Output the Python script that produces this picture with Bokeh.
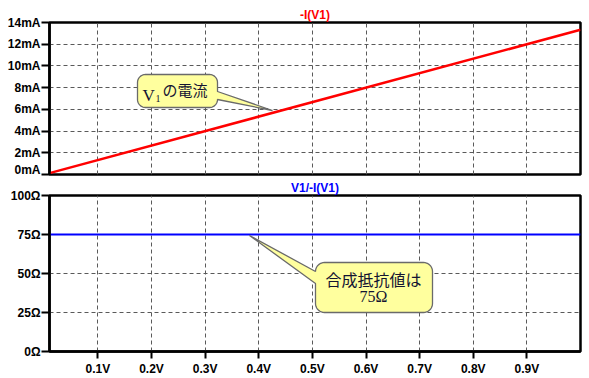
import numpy as np
from bokeh.plotting import figure
from bokeh.layouts import column
from bokeh.models import Range1d, FixedTicker, Label
from bokeh.embed import file_html
from bokeh.resources import INLINE

# ---- data ----
sweep_v = [0.0097, 1.0]
current_mA = [0.13, 13.33]
resistance_ohm = [75.0, 75.0]

x_ticks = [0.1, 0.2, 0.3, 0.4, 0.5, 0.6, 0.7, 0.8, 0.9]
x_tick_labels = ["0.1V", "0.2V", "0.3V", "0.4V", "0.5V", "0.6V", "0.7V", "0.8V", "0.9V"]
i_ticks = [0, 2, 4, 6, 8, 10, 12, 14]
i_tick_labels = ["0mA", "2mA", "4mA", "6mA", "8mA", "10mA", "12mA", "14mA"]
r_ticks = [0, 25, 50, 75, 100]
r_tick_labels = ["0Ω", "25Ω", "50Ω", "75Ω", "100Ω"]

title_top = "-I(V1)"
title_bottom = "V1/-I(V1)"
note_top = "の電流"
note_bottom_1 = "合成抵抗値は"
note_bottom_2 = "75Ω"

# ---- geometry ----
W = 589
FL, FR = 49, 580
T1, B1 = 22, 174
H1 = 176
T2, B2 = 195, 351
H2 = 378 - H1
X0, X1 = sweep_v[0], sweep_v[1]
I_MAX = i_ticks[-1]
R_MAX = r_ticks[-1]

def px_x(px):
    return X0 + (px - FL) / (FR - FL) * (X1 - X0)

def py1(py):
    return (B1 - py) / (B1 - T1) * I_MAX

def py2(py):
    return (B2 - py) / (B2 - T2) * R_MAX

AXIS_FONT = "Liberation Sans"
GRID_COLOR = "#5a5a5a"


def style(p, yt, ylabels, show_x, title_color, standoff):
    p.outline_line_color = "black"
    p.outline_line_width = 2.5
    p.background_fill_color = "white"
    p.border_fill_color = "white"
    p.title.align = "center"
    p.title.text_font = AXIS_FONT
    p.title.text_font_style = "bold"
    p.title.text_font_size = "12px"
    p.title.text_color = title_color
    p.title.standoff = standoff
    p.title.offset = 0
    p.yaxis.ticker = FixedTicker(ticks=yt)
    p.yaxis.major_label_overrides = {t: l for t, l in zip(yt, ylabels)}
    p.yaxis.major_tick_out = 8
    p.yaxis.major_tick_in = 0
    p.yaxis.minor_tick_line_color = None
    p.yaxis.axis_line_width = 2.5
    p.yaxis.major_tick_line_width = 2
    p.yaxis.major_label_standoff = 1
    p.yaxis.major_label_text_font = AXIS_FONT
    p.yaxis.major_label_text_font_style = "bold"
    p.yaxis.major_label_text_font_size = "12px"
    p.yaxis.major_label_text_color = "black"
    p.ygrid.ticker = FixedTicker(ticks=yt[1:-1])
    p.xgrid.ticker = FixedTicker(ticks=x_ticks)
    for g in (p.xgrid, p.ygrid):
        g.grid_line_color = GRID_COLOR
        g.grid_line_dash = "4 3"
        g.grid_line_width = 1
    if show_x:
        p.xaxis.ticker = FixedTicker(ticks=x_ticks)
        p.xaxis.major_label_overrides = {t: l for t, l in zip(x_ticks, x_tick_labels)}
        p.xaxis.major_tick_out = 7
        p.xaxis.major_tick_in = 0
        p.xaxis.minor_tick_line_color = None
        p.xaxis.axis_line_width = 2.5
        p.xaxis.major_tick_line_width = 2
        p.xaxis.major_label_standoff = 3
        p.xaxis.major_label_text_font = AXIS_FONT
        p.xaxis.major_label_text_font_style = "bold"
        p.xaxis.major_label_text_font_size = "12px"
        p.xaxis.major_label_text_color = "black"


def callout(box, r, side, wa, wb, tip):
    x0, y0, x1, y1 = box
    pts = []
    def arc(cx, cy, a0, a1):
        for a in np.linspace(np.radians(a0), np.radians(a1), 10):
            pts.append((cx + r * np.cos(a), cy + r * np.sin(a)))
    arc(x1 - r, y0 + r, -90, 0)
    if side == "right":
        pts += [(x1, wa), tip, (x1, wb)]
    arc(x1 - r, y1 - r, 0, 90)
    arc(x0 + r, y1 - r, 90, 180)
    if side == "left":
        pts += [(x0, wb), tip, (x0, wa)]
    arc(x0 + r, y0 + r, 180, 270)
    return pts

FILL = "#FFFF9E"
EDGE = "#6a6a6a"
TXT = "#141432"

# ---- top figure ----
p1 = figure(width=W, height=H1, output_backend="svg", toolbar_location=None,
            title=title_top,
            x_range=Range1d(X0, X1), y_range=Range1d(0, I_MAX),
            x_axis_location=None, min_border_left=FL, min_border_right=W - FR,
            min_border_top=T1, min_border_bottom=H1 - B1)
style(p1, i_ticks, i_tick_labels, False, "#ff0000", 2)
p1.line(sweep_v, current_mA, line_color="#ff0000", line_width=2.5)

pts = callout((137, 74, 217, 107), 8, "right", 91, 99, (272, 110))
p1.patch([px_x(a) for a, b in pts], [py1(b) for a, b in pts],
         fill_color=FILL, line_color=EDGE, line_width=1.3)
p1.add_layout(Label(x=px_x(142), y=py1(94.5), text="V", text_font="Liberation Serif",
                    text_font_size="17px", text_color=TXT, text_baseline="alphabetic"))
p1.add_layout(Label(x=px_x(155), y=py1(97.5), text="1", text_font="Liberation Serif",
                    text_font_size="10px", text_color=TXT, text_baseline="alphabetic"))
p1.add_layout(Label(x=px_x(162), y=py1(88.5), text=note_top, text_font="Noto Sans CJK JP",
                    text_font_size="15px", text_color=TXT, text_baseline="middle"))

# ---- bottom figure ----
p2 = figure(width=W, height=H2, output_backend="svg", toolbar_location=None,
            title=title_bottom,
            x_range=Range1d(X0, X1), y_range=Range1d(0, R_MAX),
            min_border_left=FL, min_border_right=W - FR,
            min_border_top=T2 - H1, min_border_bottom=H2 - (B2 - H1))
style(p2, r_ticks, r_tick_labels, True, "#0000ff", 2)
p2.line(sweep_v, resistance_ohm, line_color="#0000ff", line_width=2)

pts = callout((315, 262, 432, 312), 9, "left", 271, 283, (249, 235))
p2.patch([px_x(a) for a, b in pts], [py2(b) for a, b in pts],
         fill_color=FILL, line_color=EDGE, line_width=1.3)
p2.add_layout(Label(x=px_x(373), y=py2(278.5), text=note_bottom_1, text_font="Noto Sans CJK JP",
                    text_font_size="16px", text_color=TXT, text_align="center", text_baseline="middle"))
p2.add_layout(Label(x=px_x(373), y=py2(296), text=note_bottom_2, text_font="Liberation Serif",
                    text_font_size="16px", text_color=TXT, text_align="center", text_baseline="middle"))

layout = column(p1, p2, spacing=0)
open("out.html", "w").write(file_html(layout, INLINE))
